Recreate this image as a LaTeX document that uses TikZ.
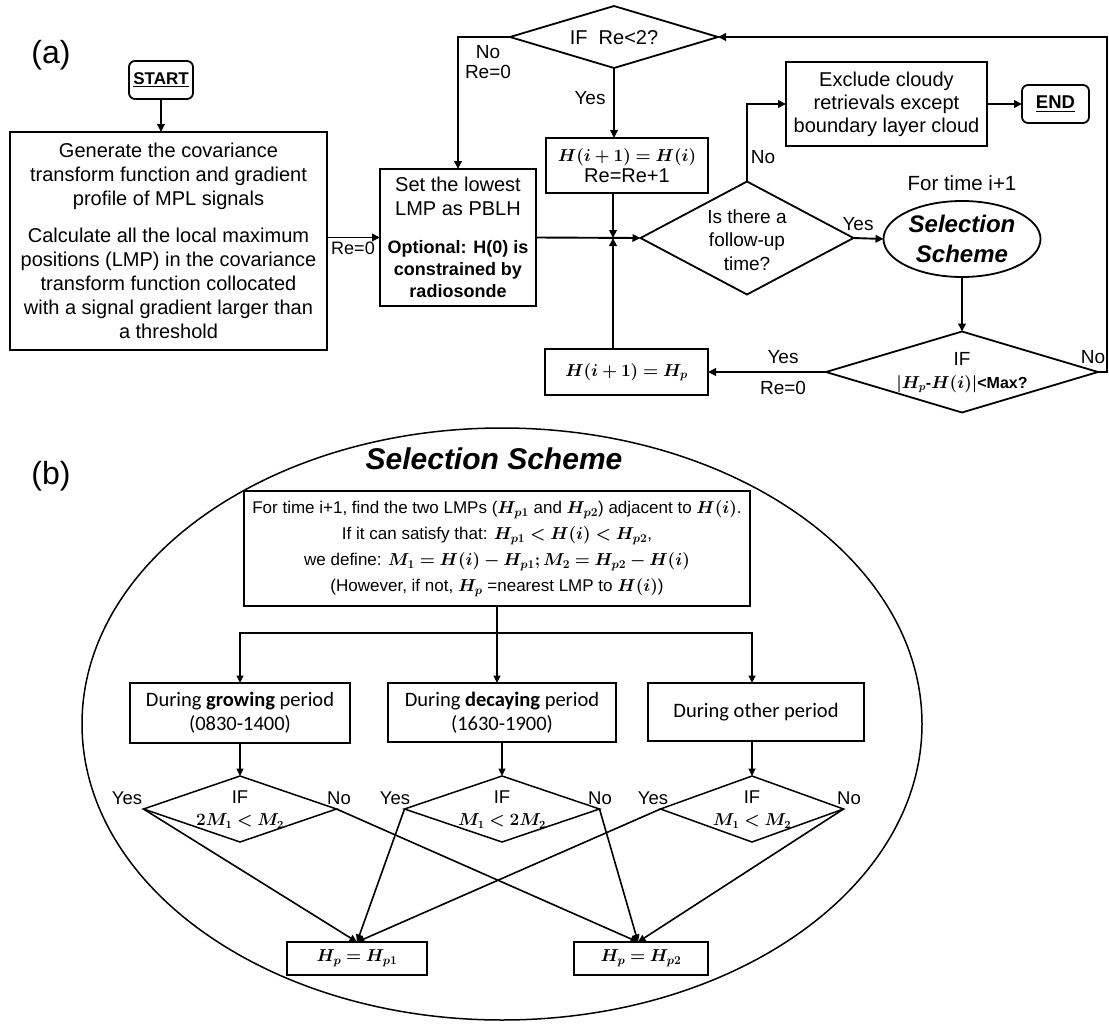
\documentclass[tikz,border=0pt]{standalone}
\usepackage{amsmath,bm}
\usepackage{fontspec}
\setmainfont{Liberation Sans}
\newfontfamily\calib{Carlito}
\usetikzlibrary{shapes.geometric,arrows.meta}
\begin{document}
\begin{tikzpicture}[x=1pt,y=-1pt,
  every node/.style={inner sep=0pt, outer sep=0pt},
  box/.style={draw, line width=1.8pt, rectangle, align=center},
  rbox/.style={box, rounded corners=6pt},
  dia/.style={draw, line width=1.8pt, diamond, inner sep=0pt},
  arr/.style={line width=1.9pt, -{Triangle[length=8pt,width=7.5pt]}},
  arrb/.style={line width=1.6pt, -{Triangle[length=7.5pt,width=7pt]}},
  ln/.style={line width=1.6pt},
  fa/.style={font=\fontsize{20}{24}\selectfont},
  lab/.style={font=\fontsize{19}{22}\selectfont},
  labb/.style={font=\fontsize{18.5}{20}\selectfont},
  mth/.style={font=\fontsize{16}{18}\selectfont},
  cb/.style={box, line width=1.5pt, font=\calib\fontsize{20.5}{24}\selectfont},
]
\useasboundingbox (0,0) rectangle (1109,1025);

% ---------------- (a) ----------------
\node[font=\fontsize{32}{36}\selectfont] (la) at (51,55) {(a)};
\node[rbox, minimum width=64pt, minimum height=38pt, font=\fontsize{17}{20}\selectfont\bfseries] (start) at (161,80) {\underline{START}};
\node[box, minimum width=317pt, minimum height=218pt, fa] (gen) at (168.5,241) {Generate the covariance\\ transform function and gradient\\ profile of MPL signals\\[13pt] Calculate all the local maximum\\ positions (LMP) in the covariance\\ transform function collocated\\ with a signal gradient larger than\\ a threshold};
\node[box, minimum width=156pt, minimum height=137pt, fa] (setlow) at (458,237.5) {Set the lowest\\ LMP as PBLH\\[14pt] {\fontsize{18}{22}\selectfont\bfseries Optional: H(0) is}\\[-2pt] {\fontsize{18}{22}\selectfont\bfseries constrained by}\\[-2pt] {\fontsize{18}{22}\selectfont\bfseries radiosonde}};
\node[dia, minimum width=208pt, minimum height=62pt] (re2) at (614,37) {};
\node[font=\fontsize{20}{22}\selectfont] (re2t) at (614,38) {IF\ \ Re<2?};
\node[box, minimum width=162pt, minimum height=55pt, font=\fontsize{20}{21}\selectfont] (hh) at (627,165.5) {{\fontsize{17}{20}\selectfont$\bm{H(i+1)=H(i)}$}\\ Re=Re+1};
\node[dia, minimum width=213pt, minimum height=113pt] (follow) at (747,238) {};
\node[align=center, font=\fontsize{19}{23.5}\selectfont] (followt) at (747,240) {Is there a\\ follow-up\\ time?};
\node[box, minimum width=201pt, minimum height=84pt, font=\fontsize{20}{23}\selectfont] (excl) at (886.5,104) {Exclude cloudy\\ retrievals except\\ boundary layer cloud};
\node[rbox, minimum width=67pt, minimum height=38pt, font=\fontsize{18.5}{20}\selectfont\bfseries] (end) at (1055.5,104) {\underline{END}};
\node[draw, ellipse, line width=1.8pt, minimum width=157pt, minimum height=76pt, align=center, font=\fontsize{24}{30}\selectfont\bfseries\itshape] (sel) at (962,239) {Selection\\ Scheme};
\node[font=\fontsize{20.5}{22}\selectfont] (fortime) at (962,183) {For time i+1};
\node[dia, minimum width=272pt, minimum height=81pt] (maxd) at (962,372) {};
\node[font=\fontsize{19}{22}\selectfont] (maxif) at (962,359) {IF};
\node[font=\fontsize{16}{20}\selectfont\bfseries] (maxt) at (962,384) {$\bm{|H_p}$-$\bm{H(i)|}$<Max?};
\node[box, minimum width=163pt, minimum height=46pt, font=\fontsize{17}{21}\selectfont] (hp) at (626.5,372) {$\bm{H(i+1)=H_p}$};
\coordinate (J) at (613,238);
\coordinate (rloop) at (1107,372);

\draw[arr] (start.south) -- (start.south |- gen.north);
\draw[arr] (setlow.west -| gen.east) -- (setlow.west);
\draw[arr] (re2.west) -| (setlow.north);
\draw[arr] (re2.south) -- (re2.south |- hh.north);
\draw[arr] (hh.south -| J) -- (J);
\draw[arr] (setlow.east) -- (follow.west);
\draw[arr] (hp.north -| J) -- (J);
\draw[arr] (follow.north) |- (excl.west);
\draw[arr] (excl.east) -- (end.west);
\draw[arr] (follow.east) -- (sel.west);
\draw[arr] (sel.south) -- (maxd.north);
\draw[arr] (maxd.west) -- (hp.east);
\draw[arr] (maxd.east) -- (rloop) |- (re2.east);

\node[lab] (l1) at (488,52) {No};
\node[lab] (l2) at (488,72) {Re=0};
\node[lab] (l3) at (590,98) {Yes};
\node[font=\fontsize{18}{20}\selectfont] (l4) at (353,248) {Re=0};
\node[lab] (l5) at (763,157) {No};
\node[lab] (l6) at (858,224) {Yes};
\node[lab] (l7) at (783,357) {Yes};
\node[lab] (l8) at (783,388) {Re=0};
\node[lab] (l9) at (1093,357) {No};

% ---------------- (b) ----------------
\node[font=\fontsize{32}{36}\selectfont] (lb) at (51,476) {(b)};
\node[draw, ellipse, line width=1.5pt, minimum width=840pt, minimum height=592pt] (bigell) at (502,724) {};
\node[font=\fontsize{30}{32}\selectfont\bfseries\itshape] (title) at (494,459) {Selection Scheme};
\node[box, line width=1.5pt, minimum width=506pt, minimum height=115pt, font=\fontsize{17}{26}\selectfont] (topb) at (497,548.5) {For time i+1, find the two LMPs ($\bm{H_{p1}}$ and $\bm{H_{p2}}$) adjacent to $\bm{H(i)}$.\\ If it can satisfy that: $\bm{H_{p1}<H(i)<H_{p2}}$,\\ we define: $\bm{M_1=H(i)-H_{p1};M_2=H_{p2}-H(i)}$\\ (However, if not, $\bm{H_p}$ =nearest LMP to $\bm{H(i)}$)};
\node[cb, minimum width=220pt, minimum height=60pt] (grow) at (240,713) {During \textbf{growing} period\\ (0830-1400)};
\node[cb, minimum width=228pt, minimum height=59pt] (decay) at (502,712.5) {During \textbf{decaying} period\\ (1630-1900)};
\node[cb, minimum width=216pt, minimum height=58pt] (other) at (756,712) {During other period};
\coordinate (br) at (497,633);

\node[dia, line width=1.5pt, minimum width=193pt, minimum height=66pt] (d1) at (240,809) {};
\node[dia, line width=1.5pt, minimum width=195pt, minimum height=66pt] (d2) at (502,809) {};
\node[dia, line width=1.5pt, minimum width=183pt, minimum height=66pt] (d3) at (752,809) {};
\node[labb] (d1a) at (240,797) {IF};
\node[mth] (d1b) at (240,821) {$\bm{2M_1<M_2}$};
\node[labb] (d2a) at (502,797) {IF};
\node[mth] (d2b) at (502,821) {$\bm{M_1<2M_2}$};
\node[labb] (d3a) at (752,797) {IF};
\node[mth] (d3b) at (752,821) {$\bm{M_1<M_2}$};

\node[box, line width=1.5pt, minimum width=140pt, minimum height=33pt, font=\fontsize{16.5}{18}\selectfont] (hp1) at (357,958.5) {$\bm{H_p=H_{p1}}$};
\node[box, line width=1.5pt, minimum width=134pt, minimum height=33pt, font=\fontsize{16.5}{18}\selectfont] (hp2) at (641,958.5) {$\bm{H_p=H_{p2}}$};

\draw[ln] (topb.south) -- (br);
\draw[arrb] (br) -- (br |- decay.north);
\draw[arrb] (br) -| (grow.north);
\draw[arrb] (br) -| (d3.north |- other.north);
\draw[arrb] (grow.south) -- (d1.north);
\draw[arrb] (decay.south) -- (d2.north);
\draw[arrb] (d3.north |- other.south) -- (d3.north);

\draw[arrb] (d1.west) -- (hp1.north);
\draw[arrb] (d2.west) -- (hp1.north);
\draw[arrb] (d3.west) -- (hp1.north);
\draw[arrb] (d1.east) -- ([xshift=-3pt]hp2.north);
\draw[arrb] (d2.east) -- ([xshift=-3pt]hp2.north);
\draw[arrb] (d3.east) -- ([xshift=-3pt]hp2.north);

\node[labb] (y1) at (127,798) {Yes};
\node[labb] (n1) at (339,798) {No};
\node[labb] (y2) at (395,798) {Yes};
\node[labb] (n2) at (600,798) {No};
\node[labb] (y3) at (653,798) {Yes};
\node[labb] (n3) at (849,798) {No};
\end{tikzpicture}
\end{document}
